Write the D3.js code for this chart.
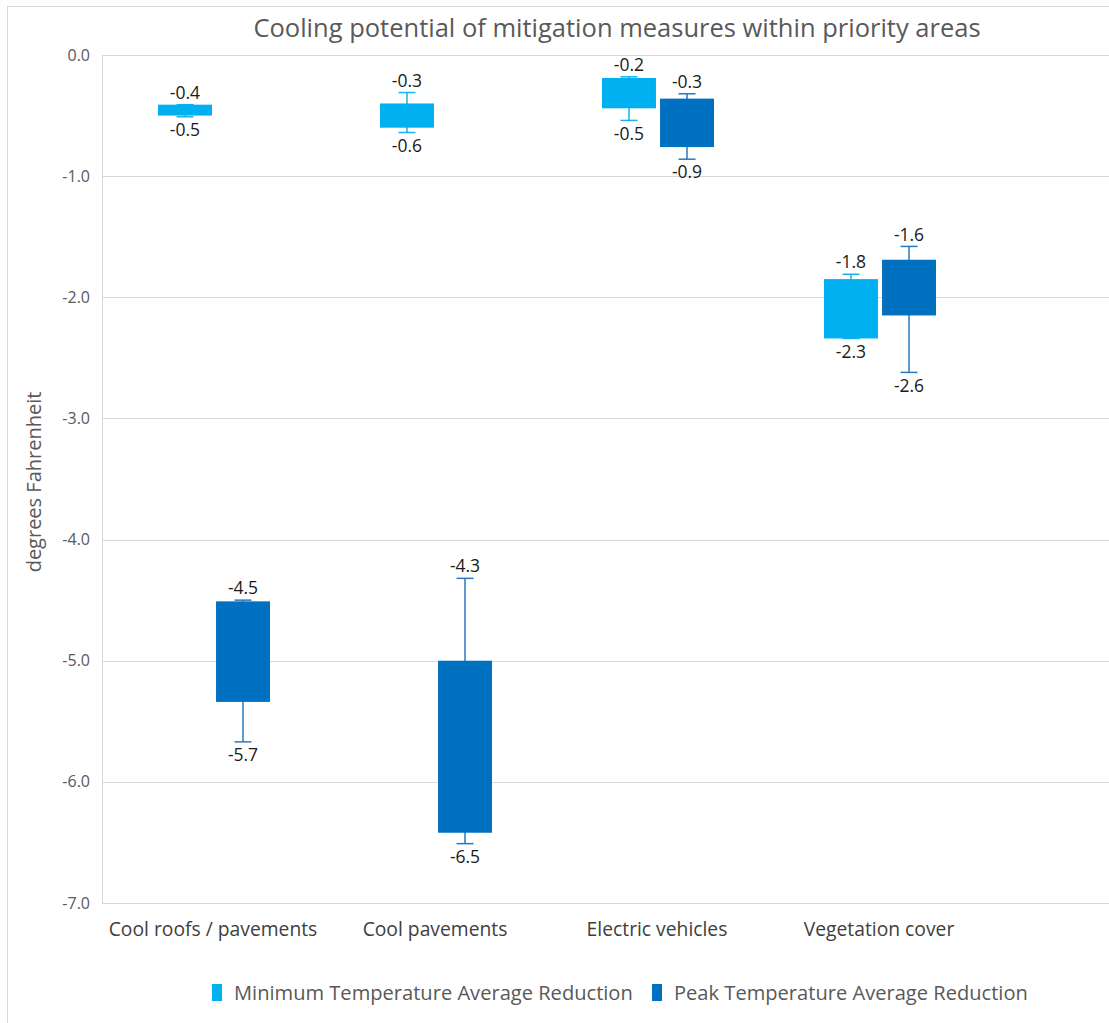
<!DOCTYPE html>
<html>
<head>
<meta charset="utf-8">
<script src="https://cdn.jsdelivr.net/npm/d3@7"></script>
<style>
  html, body { margin: 0; padding: 0; background: #ffffff; }
  svg { display: block; font-family: "Open Sans", "Noto Sans", sans-serif; }
</style>
</head>
<body>
<svg id="chart" width="1109" height="1023"></svg>
<script>
// Mitigation measures on the x axis
const categories = ["Cool roofs / pavements", "Cool pavements", "Electric vehicles", "Vegetation cover"];
const seriesNames = ["Minimum Temperature Average Reduction", "Peak Temperature Average Reduction"];

// Minimum temperature reduction (°F): box range and whisker extremes
const minBoxHigh     = [-0.41, -0.40, -0.19, -1.85];
const minBoxLow      = [-0.50, -0.60, -0.44, -2.34];
const minWhiskerHigh = [-0.41, -0.31, -0.18, -1.81];
const minWhiskerLow  = [-0.51, -0.64, -0.54, -2.34];

// Peak temperature reduction (°F): box range and whisker extremes
const peakBoxHigh     = [-4.51, -5.00, -0.36, -1.69];
const peakBoxLow      = [-5.34, -6.42, -0.76, -2.15];
const peakWhiskerHigh = [-4.50, -4.32, -0.32, -1.58];
const peakWhiskerLow  = [-5.67, -6.51, -0.86, -2.62];

const yTicks = [0, -1, -2, -3, -4, -5, -6, -7];

const colors = ["#00B0F0", "#0070C0"];
const whiskerColors = ["#16B2EC", "#2A78C2"];

const W = 1109, H = 1023;
const plot = { left: 102, top: 55, bottom: 903 };
const bandStep = 222;

// Plain hyphen for negative numbers
const locale = d3.formatLocale({ decimal: ".", thousands: ",", grouping: [3], currency: ["", ""], minus: "-" });
const fmt = locale.format(".1f");

const svg = d3.select("#chart");

// Outer chart frame
svg.append("rect")
  .attr("x", 7.5).attr("y", 6.5)
  .attr("width", W + 20).attr("height", H + 20)
  .attr("fill", "#ffffff").attr("stroke", "#d9d9d9").attr("stroke-width", 1);

const y = d3.scaleLinear().domain([-7, 0]).range([plot.bottom, plot.top]);
const x = d3.scaleBand().domain(categories)
  .range([plot.left, plot.left + bandStep * categories.length])
  .paddingInner(0).paddingOuter(0);
const xs = d3.scaleBand().domain([0, 1])
  .range([x.bandwidth() / 2 - 55, x.bandwidth() / 2 + 57])
  .paddingInner(0.07);

// Gridlines
svg.append("g").selectAll("line").data(yTicks).join("line")
  .attr("x1", plot.left).attr("x2", W)
  .attr("y1", d => Math.round(y(d)) + 0.5).attr("y2", d => Math.round(y(d)) + 0.5)
  .attr("stroke", "#d9d9d9").attr("stroke-width", 1);

// Vertical axis line
svg.append("line")
  .attr("x1", plot.left + 0.5).attr("x2", plot.left + 0.5)
  .attr("y1", plot.top).attr("y2", plot.bottom)
  .attr("stroke", "#d9d9d9");

// Y axis tick labels
const yAxis = d3.axisLeft(y).tickValues(yTicks).tickFormat(fmt).tickSize(0).tickPadding(12);
const yg = svg.append("g").attr("transform", `translate(${plot.left},0)`).call(yAxis);
yg.select(".domain").remove();
yg.selectAll("text")
  .attr("fill", "#595959").attr("font-size", 16)
  .attr("font-family", "'Open Sans', sans-serif");

// Y axis title
svg.append("text")
  .attr("transform", `translate(41,${(plot.top + plot.bottom) / 2 + 3}) rotate(-90)`)
  .attr("text-anchor", "middle")
  .attr("fill", "#595959").attr("font-size", 20)
  .text("degrees Fahrenheit");

// Category labels
const xAxis = d3.axisBottom(x).tickSize(0).tickPadding(19);
const xg = svg.append("g").attr("transform", `translate(0,${plot.bottom})`).call(xAxis);
xg.select(".domain").remove();
xg.selectAll("text")
  .attr("fill", "#404040").attr("font-size", 19.3)
  .attr("font-family", "'Open Sans', sans-serif");

// Title
svg.append("text")
  .attr("x", 617).attr("y", 37)
  .attr("text-anchor", "middle")
  .attr("fill", "#595959").attr("font-size", 25.5)
  .text("Cooling potential of mitigation measures within priority areas");

// Assemble records from the series arrays
const series = [
  { boxHigh: minBoxHigh, boxLow: minBoxLow, wHigh: minWhiskerHigh, wLow: minWhiskerLow },
  { boxHigh: peakBoxHigh, boxLow: peakBoxLow, wHigh: peakWhiskerHigh, wLow: peakWhiskerLow }
];
const records = [];
series.forEach((s, si) => {
  categories.forEach((c, ci) => {
    records.push({ cat: c, s: si, boxHigh: s.boxHigh[ci], boxLow: s.boxLow[ci], wHigh: s.wHigh[ci], wLow: s.wLow[ci] });
  });
});

const g = svg.append("g");
const capHalf = 8.5;
const cx = d => x(d.cat) + xs(d.s) + xs.bandwidth() / 2;

const item = g.selectAll("g.item").data(records).join("g").attr("class", "item");

// Whisker stems
item.append("line")
  .attr("x1", cx).attr("x2", cx)
  .attr("y1", d => y(d.wHigh)).attr("y2", d => y(d.wLow))
  .attr("stroke", d => whiskerColors[d.s]).attr("stroke-width", 1.5);
// Whisker caps
["wHigh", "wLow"].forEach(k => {
  item.append("line")
    .attr("x1", d => cx(d) - capHalf)
    .attr("x2", d => cx(d) + capHalf)
    .attr("y1", d => y(d[k])).attr("y2", d => y(d[k]))
    .attr("stroke", d => whiskerColors[d.s]).attr("stroke-width", 1.5);
});

// Floating boxes
item.append("rect")
  .attr("x", d => x(d.cat) + xs(d.s))
  .attr("width", xs.bandwidth())
  .attr("y", d => y(d.boxHigh))
  .attr("height", d => y(d.boxLow) - y(d.boxHigh))
  .attr("fill", d => colors[d.s]);

// Value labels at whisker ends
item.append("text")
  .attr("x", cx)
  .attr("y", d => y(d.wHigh) - 12)
  .attr("dy", "0.35em")
  .attr("text-anchor", "middle")
  .attr("fill", "#1a1a1a").attr("font-size", 17.5)
  .text(d => fmt(d.wHigh));
item.append("text")
  .attr("x", cx)
  .attr("y", d => y(d.wLow) + 13)
  .attr("dy", "0.35em")
  .attr("text-anchor", "middle")
  .attr("fill", "#1a1a1a").attr("font-size", 17.5)
  .text(d => fmt(d.wLow));

// Legend
const legend = svg.append("g").attr("transform", "translate(212,993)");
const legendX = [0, 440];
seriesNames.forEach((name, i) => {
  const lg = legend.append("g").attr("transform", `translate(${legendX[i]},0)`);
  lg.append("rect").attr("x", 0).attr("y", -9).attr("width", 10).attr("height", 17).attr("fill", colors[i]);
  lg.append("text").attr("x", 22).attr("y", 0).attr("dy", "0.35em")
    .attr("fill", "#595959").attr("font-size", 20.1).text(name);
});
</script>
</body>
</html>
